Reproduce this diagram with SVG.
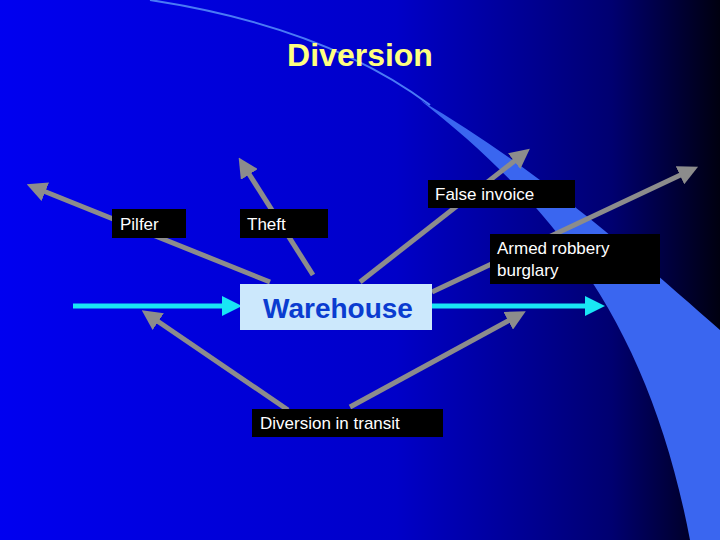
<svg xmlns="http://www.w3.org/2000/svg" width="720" height="540" viewBox="0 0 720 540">
<defs>
<linearGradient id="bg" x1="0" y1="0" x2="1" y2="0">
<stop offset="0" stop-color="#0000f0"/><stop offset="0.55" stop-color="#0000c8"/><stop offset="0.85" stop-color="#000070"/><stop offset="1" stop-color="#000010"/>
</linearGradient>
<marker id="ag" markerWidth="4" markerHeight="4" refX="2" refY="2" orient="auto" markerUnits="strokeWidth"><path d="M0,0 L4,2 L0,4 z" fill="#8c8c8c"/></marker>
<marker id="ac" markerWidth="4" markerHeight="4" refX="2" refY="2" orient="auto" markerUnits="strokeWidth"><path d="M0,0 L4,2 L0,4 z" fill="#19e6f5"/></marker>
<style>
.g{stroke:#8c8c8c;stroke-width:5;fill:none;marker-end:url(#ag)}
.c{stroke:#19e6f5;stroke-width:5;fill:none;marker-end:url(#ac)}
.b{fill:#000}
.t{font-family:"Liberation Sans",Arial,sans-serif;font-size:17px;fill:#fff}
</style>
</defs>
<rect width="720" height="540" fill="url(#bg)"/>
<path d="M420,100 C560,210 650,330 690,540 L720,540 L720,450 L720,330 C640,260 540,170 420,100 Z" fill="#3a66f0"/>
<path d="M150,0 C280,20 370,60 430,105" stroke="#4a7af5" stroke-width="2" fill="none"/>
<text x="360" y="66" text-anchor="middle" font-family="Liberation Sans,Arial,sans-serif" font-weight="bold" font-size="32" fill="#ffff80">Diversion</text>
<g id="connectors">
<line class="g" x1="270" y1="282" x2="36" y2="188"/>
<line class="g" x1="313" y1="275" x2="244" y2="166"/>
<line class="g" x1="360" y1="282" x2="522" y2="155"/>
<line class="g" x1="432" y1="292" x2="689" y2="171"/>
<line class="g" x1="288" y1="410" x2="150" y2="316"/>
<line class="g" x1="350" y1="407" x2="517" y2="316"/>
<line class="c" x1="73" y1="306" x2="232" y2="306"/>
<line class="c" x1="432" y1="306" x2="595" y2="306"/>
</g>
<g id="pilfer"><rect class="b" x="112" y="209" width="74" height="29"/><text class="t" x="120" y="230">Pilfer</text></g>
<g id="theft"><rect class="b" x="240" y="209" width="88" height="29"/><text class="t" x="247" y="230">Theft</text></g>
<g id="false-invoice"><rect class="b" x="428" y="180" width="147" height="28"/><text class="t" x="435" y="200">False invoice</text></g>
<g id="armed"><rect class="b" x="490" y="234" width="170" height="50"/><text class="t" x="497" y="254">Armed robbery</text><text class="t" x="497" y="276">burglary</text></g>
<g id="warehouse"><rect x="240" y="284" width="192" height="46" fill="#cce8fc"/><text x="338" y="318" text-anchor="middle" font-family="Liberation Sans,Arial,sans-serif" font-weight="bold" font-size="28" fill="#0a3cd0">Warehouse</text></g>
<g id="transit"><rect class="b" x="252" y="409" width="191" height="28"/><text class="t" x="260" y="429">Diversion in transit</text></g>
</svg>
